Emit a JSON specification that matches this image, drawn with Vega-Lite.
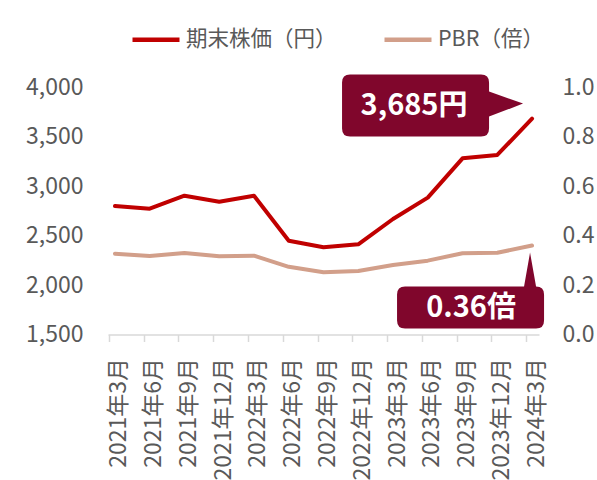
{
  "$schema": "https://vega.github.io/schema/vega-lite/v6.json",
  "width": 431,
  "height": 247,
  "autosize": {"type": "none"},
  "padding": {"left": 108, "top": 87.5, "right": 58, "bottom": 145.5},
  "background": "#FFFFFF",
  "data": {
    "values": [
      {"date": "2021年3月", "price": 2800, "pbr": 0.327},
      {"date": "2021年6月", "price": 2773, "pbr": 0.318},
      {"date": "2021年9月", "price": 2905, "pbr": 0.330},
      {"date": "2021年12月", "price": 2844, "pbr": 0.317},
      {"date": "2022年3月", "price": 2905, "pbr": 0.319},
      {"date": "2022年6月", "price": 2449, "pbr": 0.274},
      {"date": "2022年9月", "price": 2383, "pbr": 0.252},
      {"date": "2022年12月", "price": 2413, "pbr": 0.257},
      {"date": "2023年3月", "price": 2669, "pbr": 0.281},
      {"date": "2023年6月", "price": 2885, "pbr": 0.299},
      {"date": "2023年9月", "price": 3283, "pbr": 0.329},
      {"date": "2023年12月", "price": 3317, "pbr": 0.331},
      {"date": "2024年3月", "price": 3685, "pbr": 0.36}
    ]
  },
  "encoding": {
    "x": {
      "field": "date",
      "type": "ordinal",
      "sort": null,
      "scale": {"type": "point", "padding": 0.2},
      "axis": {
        "title": null,
        "labelAngle": -90,
        "labelFontSize": 23,
        "labelColor": "#595959",
        "labelPadding": 16,
        "labelOffset": 10,
        "tickOffset": -6,
        "tickSize": 7,
        "tickColor": "#D9D9D9",
        "tickWidth": 1.5,
        "domainColor": "#D9D9D9",
        "domainWidth": 1.5,
        "grid": false
      }
    }
  },
  "layer": [
    {
      "encoding": {
        "y": {
          "field": "price",
          "type": "quantitative",
          "title": null,
          "scale": {"domain": [1500, 4000], "nice": false, "zero": false},
          "axis": {
            "orient": "left",
            "values": [1500, 2000, 2500, 3000, 3500, 4000],
            "format": ",.0f",
            "ticks": false,
            "domain": false,
            "grid": false,
            "labelPadding": 25,
            "labelFontSize": 23,
            "labelColor": "#595959"
          }
        }
      },
      "layer": [
        {
          "mark": {"type": "line", "strokeWidth": 4, "strokeCap": "round", "strokeJoin": "round"},
          "encoding": {
            "color": {
              "datum": "期末株価（円）",
              "scale": {"domain": ["期末株価（円）", "PBR（倍）"], "range": ["#C00000", "#D29F8A"]},
              "legend": {
                "title": null,
                "orient": "none",
                "direction": "horizontal",
                "legendX": 22,
                "legendY": -74,
                "symbolType": "stroke",
                "symbolSize": 2209,
                "symbolStrokeWidth": 4.5,
                "labelFontSize": 21.5,
                "labelColor": "#595959",
                "labelOffset": 4,
                "columnPadding": 38
              }
            }
          }
        },
        {
          "transform": [{"filter": "datum.date === '2024年3月'"}],
          "mark": {
            "type": "point",
            "shape": "M -182 -44 L -51 -44 Q -43 -44 -43 -36 L -43 -27 L -9 -15 L -43 -2 L -43 10 Q -43 18 -51 18 L -182 18 Q -190 18 -190 10 L -190 -36 Q -190 -44 -182 -44 Z",
            "size": 4,
            "filled": true,
            "fill": "#80062C",
            "opacity": 1,
            "strokeWidth": 0
          }
        },
        {
          "transform": [{"filter": "datum.date === '2024年3月'"}],
          "mark": {
            "type": "text",
            "text": "3,685円",
            "dx": -118,
            "dy": -13,
            "fontSize": 29,
            "fontWeight": "bold",
            "fill": "#FFFFFF",
            "align": "center",
            "baseline": "middle"
          }
        }
      ]
    },
    {
      "encoding": {
        "y": {
          "field": "pbr",
          "type": "quantitative",
          "title": null,
          "scale": {"domain": [0, 1], "nice": false},
          "axis": {
            "orient": "right",
            "values": [0, 0.2, 0.4, 0.6, 0.8, 1.0],
            "format": ".1f",
            "ticks": false,
            "domain": false,
            "grid": false,
            "labelPadding": 23,
            "labelFontSize": 23,
            "labelColor": "#595959"
          }
        }
      },
      "layer": [
        {
          "mark": {"type": "line", "strokeWidth": 4, "strokeCap": "round", "strokeJoin": "round"},
          "encoding": {"color": {"datum": "PBR（倍）"}}
        },
        {
          "transform": [{"filter": "datum.date === '2024年3月'"}],
          "mark": {
            "type": "point",
            "shape": "M -127 41 L -8 41 L -2 7 L 4 41 Q 12 41 12 49 L 12 75 Q 12 83 4 83 L -127 83 Q -135 83 -135 75 L -135 49 Q -135 41 -127 41 Z",
            "size": 4,
            "filled": true,
            "fill": "#80062C",
            "opacity": 1,
            "strokeWidth": 0
          }
        },
        {
          "transform": [{"filter": "datum.date === '2024年3月'"}],
          "mark": {
            "type": "text",
            "text": "0.36倍",
            "dx": -61,
            "dy": 62,
            "fontSize": 29,
            "fontWeight": "bold",
            "fill": "#FFFFFF",
            "align": "center",
            "baseline": "middle"
          }
        }
      ]
    }
  ],
  "resolve": {"scale": {"y": "independent"}},
  "config": {
    "font": "Noto Sans CJK JP",
    "view": {"stroke": null},
    "axis": {"labelFont": "Noto Sans CJK JP"},
    "legend": {"labelFont": "Noto Sans CJK JP"},
    "text": {"font": "Noto Sans CJK JP"}
  }
}
